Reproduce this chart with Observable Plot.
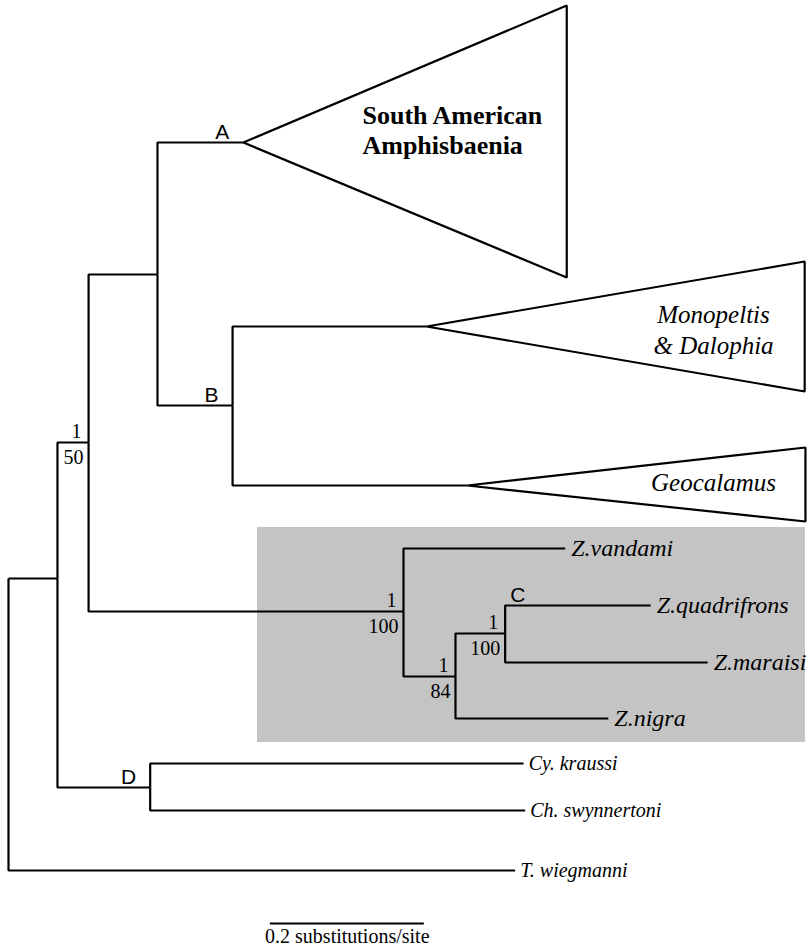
<!DOCTYPE html>
<html>
<head>
<meta charset="utf-8">
<script src="https://cdn.jsdelivr.net/npm/d3@7"></script>
<script src="https://cdn.jsdelivr.net/npm/@observablehq/plot@0.6"></script>
<style>
  html, body { margin: 0; padding: 0; background: #ffffff; }
</style>
</head>
<body>
<div id="chart"></div>
<script>
// ---- Tree data (depth in substitutions/site from the root; row = vertical layout position) ----
const nodeNames   = ["root", "n1", "n2", "n3", "A", "B", "monoApex", "geoApex", "zon", "Z.vandami", "n5", "C", "Z.quadrifrons", "Z.maraisi", "Z.nigra", "D", "Cy. kraussi", "Ch. swynnertoni", "T. wiegmanni"];
const nodeParents = [null,   "root", "n1", "n2", "n3", "n3", "B",        "B",       "n2",  "zon",       "zon", "n5", "C",             "C",         "n5",      "n1", "D",          "D",               "root"];
const nodeDepths  = [0,      0.0636, 0.104, 0.1935, 0.305, 0.291, 0.543, 0.596,   0.513, 0.723,       0.5805, 0.645, 0.834,        0.908,       0.779,     0.184, 0.669,       0.671,             0.658];
const nodeRows    = [578,    578,    442,   274,    142,   405,   326,   485,     611,   548,         676,   633,   605,             662,         718,       787,   763,         810,               870];

// collapsed clades (triangles): apex node, tip depth, top row, bottom row
const cladeApex   = ["A", "monoApex", "geoApex"];
const cladeTip    = [0.725, 1.034, 1.035];
const cladeTop    = [5, 261, 447];
const cladeBottom = [277, 391, 521];

// clade names
const cladeNameSA   = "South American\nAmphisbaenia";
const cladeNamesIt  = ["Monopeltis", "& Dalophia", "Geocalamus"];

// tip labels
const zonoTips     = ["Z.vandami", "Z.quadrifrons", "Z.maraisi", "Z.nigra"];
const outgroupTips = ["Cy. kraussi", "Ch. swynnertoni", "T. wiegmanni"];

// support values: node, posterior probability, bootstrap
const supportNodes = ["n2", "zon", "n5", "C"];
const supportPP    = ["1", "1", "1", "1"];
const supportBS    = ["50", "100", "84", "100"];

// lettered nodes
const letterNodes  = ["A", "B", "C", "D"];

// highlighted Zonosaurus box (depth / row extent)
const boxDepths = [0.3234, 1.035];
const boxRows   = [527, 742];

// scale bar
const scaleStart = 0.34, scaleLength = 0.2, scaleRow = 923;
const scaleText = "0.2 substitutions/site";

// ---- build tables ----
const nodes = nodeNames.map((id, i) => ({id, parent: nodeParents[i], x: nodeDepths[i], y: nodeRows[i]}));
const byId = new Map(nodes.map(d => [d.id, d]));

const elbows = [];
for (const n of nodes) {
  if (!n.parent) continue;
  const p = byId.get(n.parent);
  elbows.push({id: n.id, x: p.x, y: p.y}, {id: n.id, x: p.x, y: n.y}, {id: n.id, x: n.x, y: n.y});
}

const triangles = [];
cladeApex.forEach((a, i) => {
  const ap = byId.get(a);
  const pts = [[cladeTip[i], cladeTop[i]], [ap.x, ap.y], [cladeTip[i], cladeBottom[i]], [cladeTip[i], cladeTop[i]], [ap.x, ap.y]];
  pts.forEach(([x, y]) => triangles.push({id: a, x, y}));
});

const zonoLabels = zonoTips.map(t => byId.get(t));
const outLabels = outgroupTips.map(t => byId.get(t));
const supports = supportNodes.map((n, i) => ({...byId.get(n), pp: supportPP[i], bs: supportBS[i]}));

const letters = letterNodes.map(l => {
  const n = byId.get(l);
  if (l === "C") {
    const top = nodes.filter(d => d.parent === "C").reduce((a, b) => a.y < b.y ? a : b);
    return {letter: l, x: n.x, y: top.y, anchor: "start"};
  }
  return {letter: l, x: n.x, y: n.y, anchor: "end"};
});

const box = [{x1: boxDepths[0], x2: boxDepths[1], y1: boxRows[0], y2: boxRows[1]}];

const serif = "'Liberation Serif', 'Times New Roman', serif";
const sans = "'Liberation Sans', Arial, sans-serif";

const chart = Plot.plot({
  width: 807,
  height: 949,
  margin: 0,
  x: {domain: [0, 1], range: [8, 778], axis: null},
  y: {domain: [0, 949], range: [0, 949], axis: null},
  style: {background: "#ffffff"},
  marks: [
    Plot.rect(box, {x1: "x1", x2: "x2", y1: "y1", y2: "y2", fill: "#c4c4c4"}),
    Plot.line(elbows, {x: "x", y: "y", z: "id", stroke: "#000", strokeWidth: 2.2, strokeLinejoin: "miter", strokeLinecap: "butt", curve: "linear"}),
    Plot.line(triangles, {x: "x", y: "y", z: "id", stroke: "#000", strokeWidth: 2.2, strokeLinejoin: "miter", strokeLinecap: "butt", curve: "linear"}),
    // clade names
    Plot.text([cladeNameSA], {x: () => 0.4597, y: () => 153, text: d => d, textAnchor: "start", lineAnchor: "bottom", lineHeight: 1.12, fontFamily: serif, fontWeight: "bold", fontSize: 26, fill: "#000"}),
    Plot.text(cladeNamesIt, {x: () => 0.9156, y: (d, i) => [322, 353, 490][i], text: d => d, textAnchor: "middle", lineAnchor: "bottom", fontFamily: serif, fontStyle: "italic", fontSize: 25, fill: "#000"}),
    // tip labels
    Plot.text(zonoLabels, {x: "x", y: "y", text: "id", dx: 6, textAnchor: "start", lineAnchor: "middle", fontFamily: serif, fontStyle: "italic", fontSize: 24, fill: "#000"}),
    Plot.text(outLabels, {x: "x", y: "y", text: "id", dx: 5, textAnchor: "start", lineAnchor: "middle", fontFamily: serif, fontStyle: "italic", fontSize: 20, fill: "#000"}),
    // support values
    Plot.text(supports, {x: "x", y: "y", text: "pp", dx: -7, dy: -5, textAnchor: "end", lineAnchor: "bottom", fontFamily: serif, fontSize: 20, fill: "#000"}),
    Plot.text(supports, {x: "x", y: "y", text: "bs", dx: -5, dy: 21, textAnchor: "end", lineAnchor: "bottom", fontFamily: serif, fontSize: 20, fill: "#000"}),
    // node letters
    Plot.text(letters.filter(d => d.anchor === "end"), {x: "x", y: "y", text: "letter", dx: -14, dy: -4, textAnchor: "end", lineAnchor: "bottom", fontFamily: sans, fontSize: 21, fill: "#000"}),
    Plot.text(letters.filter(d => d.anchor === "start"), {x: "x", y: "y", text: "letter", dx: 5, dy: -4, textAnchor: "start", lineAnchor: "bottom", fontFamily: sans, fontSize: 21, fill: "#000"}),
    // scale bar
    Plot.ruleY([scaleRow], {x1: scaleStart, x2: scaleStart + scaleLength, stroke: "#000", strokeWidth: 2.2}),
    Plot.text([scaleText], {x: scaleStart + scaleLength / 2, y: scaleRow, text: d => d, dy: 19, textAnchor: "middle", lineAnchor: "bottom", fontFamily: serif, fontSize: 20, fill: "#000"})
  ]
});
document.getElementById("chart").appendChild(chart);
</script>
</body>
</html>
